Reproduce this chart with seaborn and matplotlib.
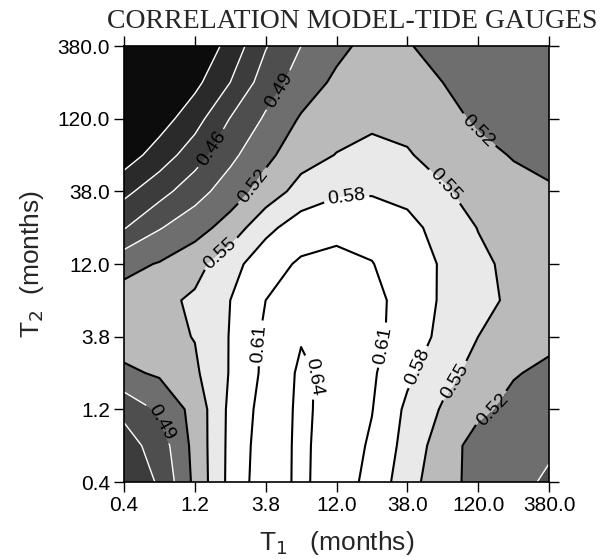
import numpy as np
import matplotlib
matplotlib.use("Agg")
import matplotlib.pyplot as plt
import seaborn as sns

# ---------------- data ----------------
title = "CORRELATION MODEL-TIDE GAUGES"
tick_labels = ["0.4", "1.2", "3.8", "12.0", "38.0", "120.0", "380.0"]

# grid of the two periods, in half-steps of the (logarithmic) tick index
t1_index = [0.0, 0.5, 1.0, 1.5, 2.0, 2.5, 3.0, 3.5, 4.0, 4.5, 5.0, 5.5, 6.0]
t2_index = [0.0, 0.5, 1.0, 1.5, 2.0, 2.5, 3.0, 3.5, 4.0, 4.5, 5.0, 5.5, 6.0]

# correlation, one row per T2 grid value (bottom to top), columns follow T1
corr_t2_00 = [0.440, 0.463, 0.527, 0.589, 0.628, 0.6445, 0.627, 0.600, 0.563, 0.529, 0.512, 0.500, 0.485]
corr_t2_05 = [0.446, 0.474, 0.529, 0.588, 0.626, 0.645, 0.627, 0.606, 0.569, 0.535, 0.508, 0.500, 0.495]
corr_t2_10 = [0.468, 0.495, 0.530, 0.587, 0.622, 0.6455, 0.629, 0.611, 0.574, 0.547, 0.526, 0.512, 0.505]
corr_t2_15 = [0.514, 0.524, 0.545, 0.582, 0.617, 0.645, 0.631, 0.614, 0.586, 0.560, 0.540, 0.522, 0.514]
corr_t2_20 = [0.535, 0.542, 0.551, 0.5815, 0.6155, 0.638, 0.634, 0.618, 0.597, 0.572, 0.550, 0.537, 0.527]
corr_t2_25 = [0.532, 0.542, 0.555, 0.580, 0.610, 0.620, 0.625, 0.618, 0.599, 0.576, 0.558, 0.545, 0.535]
corr_t2_30 = [0.511, 0.522, 0.539, 0.569, 0.598, 0.614, 0.617, 0.611, 0.595, 0.577, 0.557, 0.542, 0.535]
corr_t2_35 = [0.458, 0.488, 0.508, 0.532, 0.572, 0.595, 0.603, 0.600, 0.588, 0.570, 0.549, 0.538, 0.530]
corr_t2_40 = [0.422, 0.449, 0.478, 0.505, 0.532, 0.562, 0.575, 0.577, 0.572, 0.553, 0.541, 0.530, 0.522]
corr_t2_45 = [0.384, 0.414, 0.446, 0.4825, 0.513, 0.537, 0.551, 0.557, 0.552, 0.541, 0.529, 0.518, 0.515]
corr_t2_50 = [0.360, 0.386, 0.418, 0.461, 0.494, 0.523, 0.537, 0.545, 0.543, 0.531, 0.515, 0.510, 0.508]
corr_t2_55 = [0.345, 0.365, 0.392, 0.430, 0.475, 0.5035, 0.526, 0.537, 0.532, 0.520, 0.508, 0.504, 0.503]
corr_t2_60 = [0.335, 0.350, 0.375, 0.410, 0.458, 0.490, 0.512, 0.530, 0.522, 0.510, 0.503, 0.500, 0.497]

line_levels = [0.40, 0.43, 0.46, 0.49, 0.52, 0.55, 0.58, 0.61, 0.64]
fill_levels = [0.30, 0.40, 0.43, 0.46, 0.49, 0.52, 0.55, 0.58, 0.70]

# contour labels: level -> approximate places in T1/T2 index space
label_places = {
    0.46: [(1.30, 4.55)],
    0.49: [(2.25, 5.35), (0.48, 0.81)],
    0.52: [(1.84, 4.06), (5.01, 4.84), (5.18, 1.03)],
    0.55: [(1.40, 3.10), (4.52, 4.06), (4.66, 1.40)],
    0.58: [(3.14, 3.90), (4.15, 1.58)],
    0.61: [(1.89, 1.91), (3.67, 1.88)],
    0.64: [(2.74, 1.45)],
}

# ---------------- style ----------------
sns.set_theme(style="ticks")
plt.rcParams["font.family"] = ["Liberation Sans", "DejaVu Sans"]

corr = np.array([corr_t2_00, corr_t2_05, corr_t2_10, corr_t2_15, corr_t2_20,
                 corr_t2_25, corr_t2_30, corr_t2_35, corr_t2_40, corr_t2_45,
                 corr_t2_50, corr_t2_55, corr_t2_60])

fill_colors = sns.color_palette(["#0c0c0c", "#2a2a2a", "#3c3c3c", "#4e4e4e",
                                 "#6e6e6e", "#bababa", "#e9e9e9", "#ffffff"])

fig = plt.figure(figsize=(6.02, 5.59), dpi=100)
ax = fig.add_axes([124 / 602, 1 - 482 / 559, 425 / 602, 436 / 559])

ax.contourf(t1_index, t2_index, corr, levels=fill_levels, colors=fill_colors)

for lev in line_levels:
    dark = lev < 0.505
    cs = ax.contour(t1_index, t2_index, corr, levels=[lev],
                    colors="white" if dark else "black",
                    linewidths=1.0 if dark else 1.5)
    if lev in label_places:
        ax.clabel(cs, manual=label_places[lev], inline=True, fmt="%.2f",
                  fontsize=14, colors="black", inline_spacing=4)

ax.set_xlim(0, 6)
ax.set_ylim(0, 6)
ax.set_xticks(range(7))
ax.set_yticks(range(7))
ax.set_xticklabels(tick_labels)
ax.set_yticklabels(tick_labels)
ax.tick_params(axis="both", direction="out", length=7, width=1.0,
               labelsize=15, colors="black", pad=3,
               top=True, right=True, labeltop=False, labelright=False)
for sp in ax.spines.values():
    sp.set_visible(True)
    sp.set_color("black")
    sp.set_linewidth(1.2)

ax.set_xlabel("T$_1$   (months)", fontsize=19, labelpad=10)
ax.set_ylabel("T$_2$  (months)", fontsize=19, labelpad=8)

fig.text(352 / 602, 1 - 21 / 559, title, ha="center", va="center",
         fontsize=20, family=["Liberation Serif", "DejaVu Serif"])

fig.savefig("out.png", dpi=100)
